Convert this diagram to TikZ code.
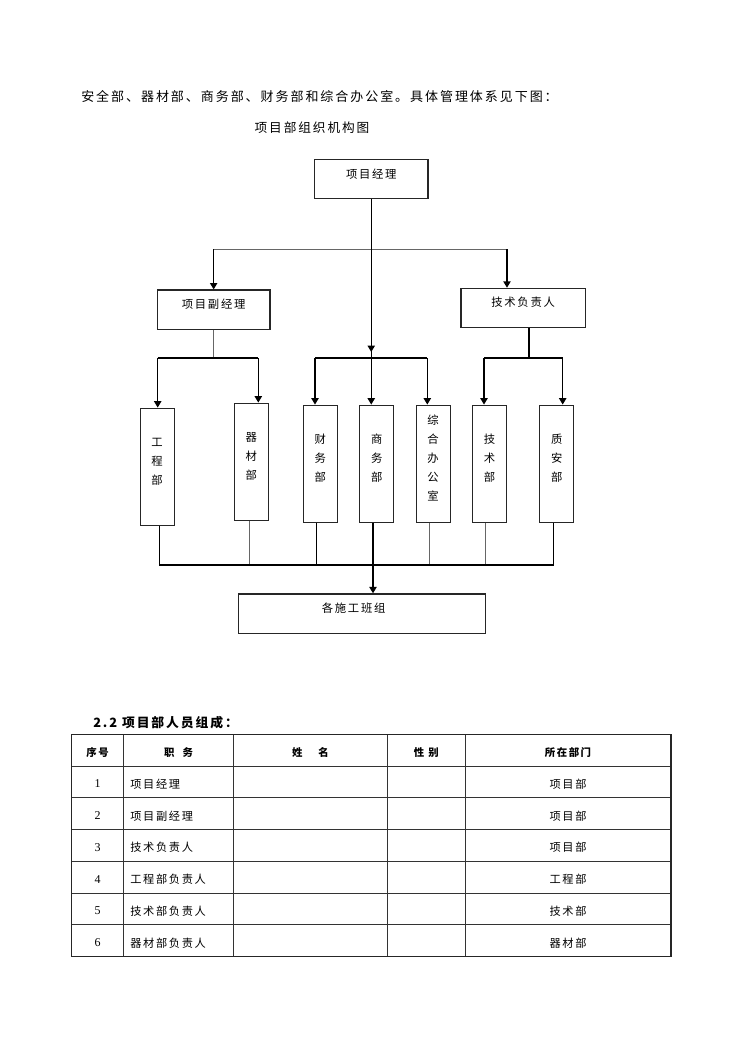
\documentclass[tikz,border=0pt]{standalone}
\usepackage{fontspec}
\setmainfont{Liberation Serif}
\newfontfamily\cjk[LetterSpace=15]{Noto Sans CJK SC}
\usetikzlibrary{arrows.meta}
\newcommand{\up}[1]{\raisebox{3.9pt}[\height][\depth]{#1}}
\newcommand{\vtxt}[1]{\up{\begin{tabular}{@{}c@{}}#1\end{tabular}}}
\begin{document}
\begin{tikzpicture}[x=0.75pt,y=-0.75pt,
  orgbox/.style={draw=black!85, line width=0.8pt, inner sep=0pt, font=\cjk\fontsize{8.5}{10}\selectfont},
  hbx/.style={orgbox, minimum height=29.5pt},
  vbx/.style={orgbox, minimum width=25.5pt, minimum height=87.8pt, font=\cjk\fontsize{8.5}{14.3}\selectfont},
  thickln/.style={line width=1.1pt, black},
  thinln/.style={line width=0.6pt, black!60},
  arr/.style={thickln, -{Triangle[length=4.8pt,width=5.4pt]}},
  tline/.style={line width=0.7pt, black!80},
  thead/.style={font=\cjk\bfseries\fontsize{7.8}{9}\selectfont, inner sep=0pt},
  tcell/.style={font=\cjk\fontsize{8.4}{10}\selectfont, inner sep=0pt},
  tnum/.style={font=\fontsize{9}{10}\selectfont, inner sep=0pt}
]
\useasboundingbox (0,0) rectangle (744,1052);

% ---- text above the chart
\node[anchor=west, inner sep=0pt, font=\cjk\fontsize{9.75}{12}\selectfont] (intro) at (81,97)
  {安全部、器材部、商务部、财务部和综合办公室。具体管理体系见下图：};
\node[inner sep=0pt, font=\cjk\fontsize{9.5}{12}\selectfont] (title) at (312,128) {项目部组织机构图};

% ---- boxes
\node[hbx, minimum width=85.1pt] (pm) at (371.25,179.25) {\up{项目经理}};
\node[hbx, minimum width=84.5pt] (dpm) at (213.65,309.65) {\up{项目副经理}};
\node[hbx, minimum width=93.2pt, minimum height=29.25pt] (tech) at (523.15,307.8) {\up{技术负责人}};

\node[vbx] (gcb) at (157.15,466.65) {\vtxt{工\\程\\部}};
\node[vbx] (qcb) at (251.3,461.65) {\vtxt{器\\材\\部}};
\node[vbx] (cwb) at (320.3,463.65) {\vtxt{财\\务\\部}};
\node[vbx] (swb) at (376.7,463.65) {\vtxt{商\\务\\部}};
\node[vbx] (zhb) at (433.15,463.65) {\vtxt{综\\合\\办\\公\\室}};
\node[vbx] (jsb) at (489.5,463.65) {\vtxt{技\\术\\部}};
\node[vbx] (zab) at (556.7,463.65) {\vtxt{质\\安\\部}};

\node[hbx, line width=1pt, minimum width=185.55pt] (sg) at (362,613.65) {\up{各施工班组\hspace*{12.5pt}}};

% ---- connector coordinates
\coordinate (h1L) at (213.65,249);
\coordinate (h1R) at (507,249);
\coordinate (pmArr) at (371.25,352);
\coordinate (busL1) at (157.7,358);
\coordinate (busL2) at (258.3,358);
\coordinate (busM1) at (315,358);
\coordinate (busM3) at (427.3,358);
\coordinate (busR1) at (484,358);
\coordinate (busR2) at (562.7,358);
\coordinate (techB) at (529,358);
\coordinate (b1) at (159.3,565);
\coordinate (b2) at (249.3,565);
\coordinate (b3) at (316.7,565);
\coordinate (b4) at (373,565);
\coordinate (b5) at (429.3,565);
\coordinate (b6) at (485.3,565);
\coordinate (b7) at (553.7,565);

% ---- top level
\draw[thinln] (h1L) -- (h1R);
\draw[thickln] (pm.south) -- (pm.south |- busM1);
\draw[arr] (pm.south) -- (pmArr);
\draw[arr] (h1L) -- (h1L |- dpm.north);
\draw[arr] (h1R) -- (h1R |- tech.north);

% ---- left group
\draw[thinln] (dpm.south) -- (dpm.south |- busL1);
\draw[thickln] (busL1) -- (busL2);
\draw[arr] (busL1) -- (busL1 |- gcb.north);
\draw[arr] (busL2) -- (busL2 |- qcb.north);

% ---- middle group
\draw[thickln] (busM1) -- (busM3);
\draw[arr] (busM1) -- (busM1 |- cwb.north);
\draw[arr] (pm.south |- busM1) -- (pm.south |- swb.north);
\draw[arr] (busM3) -- (busM3 |- zhb.north);

% ---- right group
\draw[thickln] (techB |- tech.south) -- (techB);
\draw[thickln] (busR1) -- (busR2);
\draw[arr] (busR1) -- (busR1 |- jsb.north);
\draw[arr] (busR2) -- (busR2 |- zab.north);

% ---- bottom
\draw[thickln] (b1 |- gcb.south) -- (b1);
\draw[thinln] (b2 |- qcb.south) -- (b2);
\draw[thickln] (b3 |- cwb.south) -- (b3);
\draw[thickln] (b4 |- swb.south) -- (b4);
\draw[thinln] (b5 |- zhb.south) -- (b5);
\draw[thinln] (b6 |- jsb.south) -- (b6);
\draw[thickln] (b7 |- zab.south) -- (b7);
\draw[thickln] (b1) -- (b7);
\draw[arr] (b4) -- (b4 |- sg.north);

% ---- table heading
\node[anchor=west, inner sep=0pt, font=\cjk\bfseries\fontsize{9.6}{11}\selectfont] (sec) at (93,722.7) {2.2 项目部人员组成：};

% ---- table grid
\foreach \i in {1,...,6} {
  \draw[tline] (71.7,{734.3+31.77*\i}) -- (671,{734.3+31.77*\i});
}
\foreach \xx in {123.3,233.7,387.3,465.3} {
  \draw[tline] (\xx,734.3) -- (\xx,956.7);
}
\draw[line width=0.9pt, black!85] (71.7,734.3) rectangle (671,956.7);

% ---- table header
\node[thead] (hA) at (97.5,753) {序号};
\node[thead] (hB) at (178.5,753) {职\hspace{6pt}务};
\node[thead] (hC) at (310.5,753) {姓\hspace{12pt}名};
\node[thead] (hD) at (426.3,753) {性\hspace{3pt}别};
\node[thead] (hE) at (568,753) {所在部门};

% ---- table rows
\foreach \n/\job/\dep [count=\k] in {1/项目经理/项目部, 2/项目副经理/项目部, 3/技术负责人/项目部,
    4/工程部负责人/工程部, 5/技术部负责人/技术部, 6/器材部负责人/器材部} {
  \node[tnum] (n\k) at (97.5,{750.2+31.77*\k+2}) {\n};
  \node[tcell, anchor=west] (j\k) at (130,{750.2+31.77*\k+2}) {\job};
  \node[tcell] (d\k) at (568,{750.2+31.77*\k+2}) {\dep};
}
\end{tikzpicture}
\end{document}
